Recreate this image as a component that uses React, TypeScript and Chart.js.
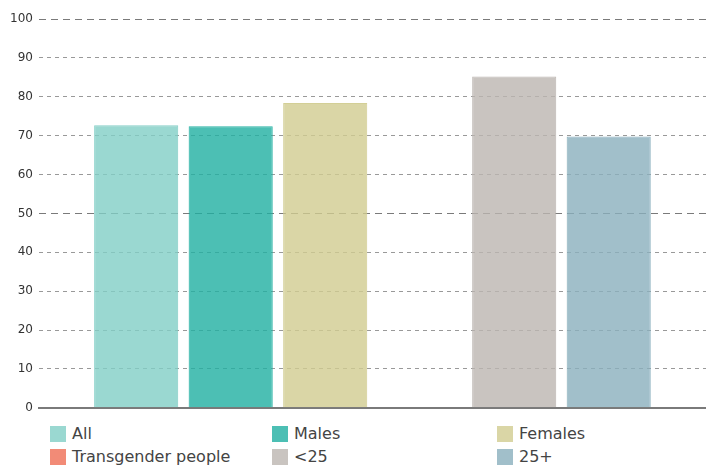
import React, { useEffect, useRef } from "react";
import { Chart, registerables } from "chart.js";

Chart.register(...registerables);

const categories = [""];
const seriesNames = ["All", "Males", "Females", "Transgender people", "<25", "25+"];
const seriesValues: (number | null)[] = [72.7, 72.4, 78.4, null, 85.2, 69.8];
const seriesColors = [
  "rgba(129,206,198,0.8)",
  "rgba(31,175,161,0.8)",
  "rgba(209,204,144,0.8)",
  "rgba(239,110,85,0.8)",
  "rgba(188,181,176,0.8)",
  "rgba(138,175,189,0.8)",
];
const legendSwatch = ["#9ad8d1", "#4cbfb4", "#dad6a6", "#f28b77", "#c9c4c0", "#a1bfca"];
const yTicks = [0, 10, 20, 30, 40, 50, 60, 70, 80, 90, 100];

export default function App() {
  const ref = useRef<HTMLCanvasElement | null>(null);
  useEffect(() => {
    document.body.style.margin = "0";
    const chart = new Chart(ref.current!, {
      type: "bar",
      data: {
        labels: categories,
        datasets: seriesNames.map((n, i) => ({
          label: n,
          data: [seriesValues[i]],
          backgroundColor: seriesColors[i],
          borderColor: seriesColors[i].replace("0.8)", "0.95)"),
          borderWidth: 1,
          categoryPercentage: 0.85,
          barPercentage: 0.89,
        })),
      },
      options: {
        animation: false,
        responsive: true,
        maintainAspectRatio: false,
        layout: { padding: { top: 19, left: 4, right: 0, bottom: 2 } },
        plugins: { legend: { display: false }, tooltip: { enabled: false } },
        scales: {
          x: {
            grid: { display: false },
            ticks: { display: false },
            border: { display: true, color: "#7a7a7a", width: 2 },
          },
          y: {
            min: 0,
            max: 100,
            afterBuildTicks: (s: any) => {
              s.ticks = yTicks.map((v) => ({ value: v }));
            },
            ticks: {
              padding: 6,
              color: "#333",
              font: { family: "DejaVu Sans", size: 12 },
            },
            grid: {
              drawTicks: false,
              lineWidth: 1,
              color: (ctx: any) =>
                ctx.tick && (ctx.tick.value === 50 || ctx.tick.value === 100) ? "#7a7a7a" : "#999999",
            },
            border: {
              display: false,
              dash: (ctx: any) =>
                ctx.tick && (ctx.tick.value === 50 || ctx.tick.value === 100) ? [7, 5] : [4, 4],
            },
          },
        },
      },
    });
    return () => chart.destroy();
  }, []);

  return (
    <div style={{ position: "absolute", left: 0, top: 0, width: 706, height: 466, background: "#fff" }}>
      <div style={{ position: "absolute", left: 0, top: 0, width: 706, height: 421 }}>
        <canvas ref={ref} />
      </div>
      <div
        style={{
          position: "absolute",
          left: 50,
          top: 426,
          display: "grid",
          gridTemplateColumns: "222px 225px 200px",
          rowGap: 7,
          fontFamily: "DejaVu Sans",
          fontSize: 16,
          color: "#444",
        }}
      >
        {seriesNames.map((n, i) => (
          <div key={n} style={{ display: "flex", alignItems: "center", height: 16, lineHeight: "16px" }}>
            <span
              style={{
                display: "inline-block",
                width: 16,
                height: 16,
                background: legendSwatch[i],
                marginRight: 6,
                boxSizing: "border-box",
              }}
            />
            <span>{n}</span>
          </div>
        ))}
      </div>
    </div>
  );
}
